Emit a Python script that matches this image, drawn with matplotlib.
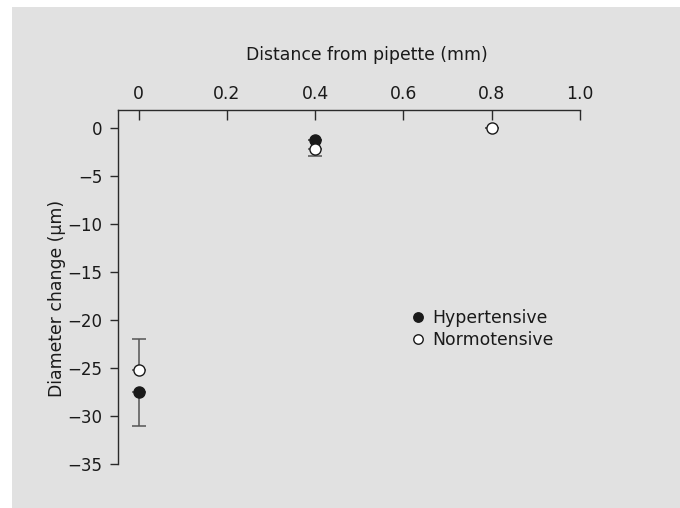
import matplotlib
matplotlib.use("Agg")
import matplotlib.pyplot as plt
from matplotlib.patches import Rectangle

plt.rcParams['font.family'] = ['DejaVu Sans']

# Data
hyper_x = [0.0, 0.4]
hyper_y = [-27.5, -1.2]
hyper_err_lo = [3.5, 0.0]
hyper_err_hi = [0.0, 0.0]

normo_x = [0.0, 0.4, 0.8]
normo_y = [-25.2, -2.2, 0.0]
normo_err_lo = [0.0, 0.7, 0.0]
normo_err_hi = [3.2, 0.0, 0.0]

xticks = [0, 0.2, 0.4, 0.6, 0.8, 1.0]
xticklabels = ['0', '0.2', '0.4', '0.6', '0.8', '1.0']
yticks = [0, -5, -10, -15, -20, -25, -30, -35]
yticklabels = ['0', '\u22125', '\u221210', '\u221215', '\u221220', '\u221225', '\u221230', '\u221235']

W, H = 680, 508
fig = plt.figure(figsize=(W/100, H/100), dpi=100)
fig.patch.set_facecolor('white')
fig.patches.append(Rectangle((12/W, 0), 1 - 12/W, 1 - 7/H, transform=fig.transFigure,
                             facecolor='#e1e1e1', edgecolor='none', zorder=-10))

ax = fig.add_axes([118/W, 1 - 464/H, (580-118)/W, (464-110)/H])
ax.set_facecolor('none')
ink = '#2a2a2a'
txt = '#1a1a1a'
fs = 12.4

ax.errorbar(hyper_x, hyper_y, yerr=[hyper_err_lo, hyper_err_hi], fmt='none',
            ecolor='#555555', elinewidth=1.1, capsize=5, capthick=1.1, zorder=2)
ax.errorbar(normo_x, normo_y, yerr=[normo_err_lo, normo_err_hi], fmt='none',
            ecolor='#555555', elinewidth=1.1, capsize=5, capthick=1.1, zorder=2)
ax.plot(hyper_x, hyper_y, 'o', ms=8, mfc='#1a1a1a', mec='#1a1a1a', mew=1, ls='none',
        label='Hypertensive', zorder=3)
ax.plot(normo_x, normo_y, 'o', ms=8, mfc='white', mec='#1a1a1a', mew=1, ls='none',
        label='Normotensive', zorder=4)

ax.set_xlim(-0.047, 1.0)
ax.set_ylim(-35, 1.9)

for s in ['right', 'bottom']:
    ax.spines[s].set_visible(False)
ax.spines['top'].set_color(ink)
ax.spines['left'].set_color(ink)
ax.spines['top'].set_linewidth(1.0)
ax.spines['left'].set_linewidth(1.0)

ax.xaxis.tick_top()
ax.set_xticks(xticks)
ax.set_xticklabels(xticklabels)
ax.set_yticks(yticks)
ax.set_yticklabels(yticklabels)
ax.tick_params(axis='x', direction='in', length=7, width=1, color=ink, labelsize=fs,
               labelcolor=txt, pad=5)
ax.tick_params(axis='y', direction='out', length=6, width=1, color=ink, labelsize=12,
               labelcolor=txt, pad=5)

ax.xaxis.set_label_position('top')
ax.set_xlabel('Distance from pipette (mm)', fontsize=fs, color=txt)
ax.xaxis.set_label_coords((367-118)/(580-118), (464-60)/(464-110))
ax.set_ylabel('Diameter change (\u00b5m)', fontsize=fs, color=txt)
ax.yaxis.set_label_coords((66-118)/(580-118), (464-298)/(464-110))

leg = ax.legend(loc='upper left', bbox_to_anchor=((409-118)/(580-118), (464-309)/(464-110)),
                frameon=False, fontsize=fs, handletextpad=0.35, labelspacing=0.25,
                borderaxespad=0, borderpad=0, handlelength=1.0, markerscale=0.85)
for t in leg.get_texts():
    t.set_color(txt)

fig.savefig('out.png', dpi=100)
